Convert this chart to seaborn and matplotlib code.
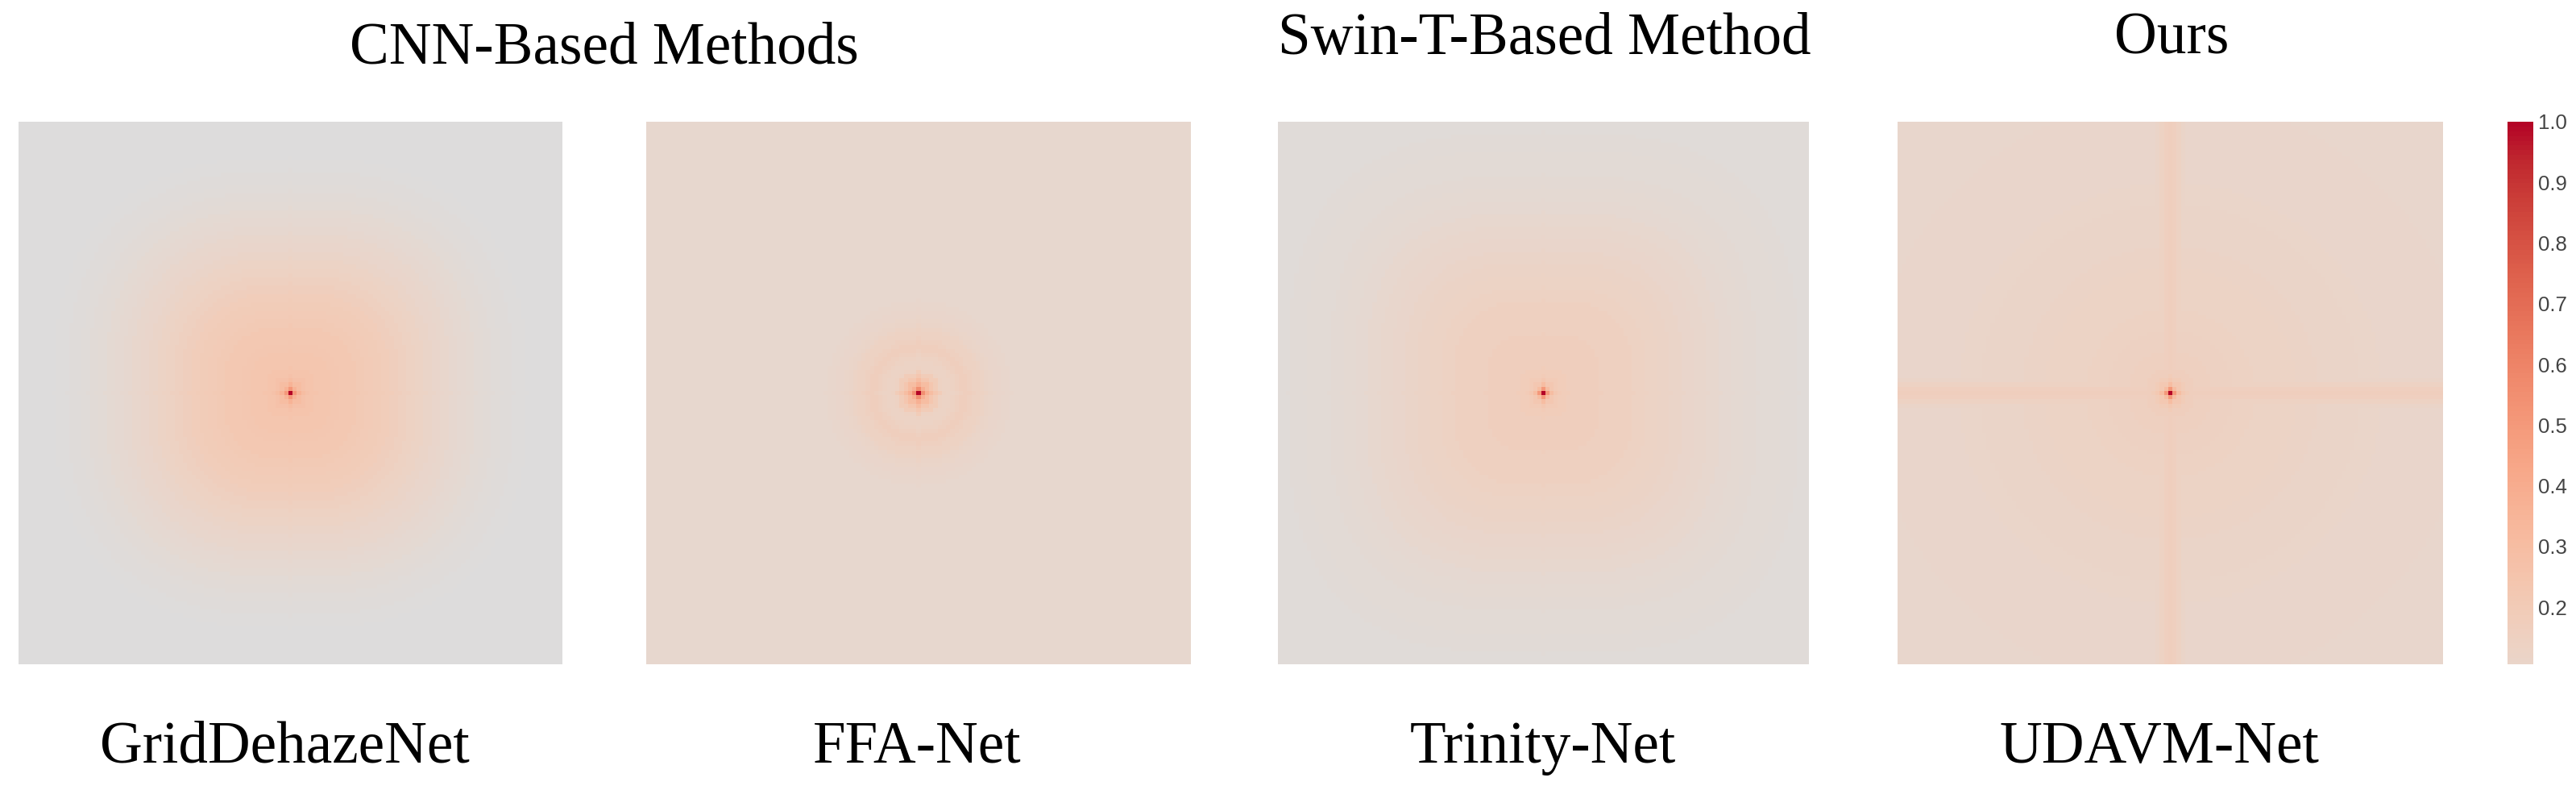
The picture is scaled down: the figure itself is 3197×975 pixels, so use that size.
import numpy as np
import matplotlib
matplotlib.use('Agg')
import matplotlib.pyplot as plt
import seaborn as sns

sns.set_style('white')

# labels
top_titles = ['CNN-Based Methods', 'Swin-T-Based Method', 'Ours']
net_names = ['GridDehazeNet', 'FFA-Net', 'Trinity-Net', 'UDAVM-Net']
cbar_ticks = [0.2, 0.3, 0.4, 0.5, 0.6, 0.7, 0.8, 0.9, 1.0]

# erf levels, ring by ring (outer radius of ring in cells, value)
grid_radius = [0, 1, 2, 3, 4, 5, 6, 8, 10, 12, 14, 16, 18, 20, 22, 24, 26, 28, 30, 32, 34, 36, 38, 40, 42, 44, 46, 48, 50, 53, 56, 60, 200]
grid_level = [1.0, .50, .36, .30, .27, .255, .25, .24, .235, .23, .225, .22, .21, .20, .19, .18, .165, .155, .14, .13, .115, .10, .09, .075, .065, .055, .045, .035, .03, .02, .015, .005, 0.0]

ffa_radius = [0, 1, 2, 3, 4, 5, 6, 7, 8, 9, 10, 11, 12, 13, 14, 15, 16, 17, 18, 19, 20, 22, 200]
ffa_level = [1.0, .55, .38, .30, .24, .19, .14, .125, .125, .14, .155, .17, .17, .15, .135, .14, .13, .115, .105, .10, .095, .09, .085]

trinity_radius = [0, 1, 2, 3, 4, 6, 10, 14, 18, 22, 25, 28, 31, 34, 37, 40, 43, 46, 49, 52, 55, 58, 62, 68, 200]
trinity_level = [1.0, .50, .30, .23, .20, .18, .17, .165, .155, .15, .14, .13, .12, .11, .10, .09, .08, .07, .06, .05, .045, .04, .035, .03, .025]

udavm_radius = [0, 1, 2, 3, 4, 6, 10, 15, 20, 25, 30, 35, 40, 45, 50, 55, 60, 70, 200]
udavm_level = [1.0, .50, .30, .22, .19, .165, .15, .145, .14, .13, .125, .12, .115, .11, .105, .10, .10, .095, .09]

# the cross in UDAVM-Net, by distance from the axis (cells)
cross_offset = [0, 1, 2, 3, 200]
cross_level = [.17, .16, .135, .115, 0.0]

# rounded-square shape of the first and third map
shape_power = [2.6, 2, 3, 2]

N = 129


def make_map(radius, level, power, band_off=None, band_lev=None):
    # look every cell up in the ring table
    r = np.arange(N) - N // 2
    xx, yy = np.meshgrid(r, r)
    dist = (np.abs(xx) ** power + np.abs(yy) ** power) ** (1 / power)
    z = np.array(level)[np.searchsorted(radius, dist)]
    if band_off is not None:
        band = np.array(band_lev)[np.searchsorted(band_off, np.minimum(np.abs(xx), np.abs(yy)))]
        z = np.maximum(z, band)
    return z


maps = [
    make_map(grid_radius, grid_level, shape_power[0]),
    make_map(ffa_radius, ffa_level, shape_power[1]),
    make_map(trinity_radius, trinity_level, shape_power[2]),
    make_map(udavm_radius, udavm_level, shape_power[3], cross_offset, cross_level),
]

W, H = 3197, 975
fig = plt.figure(figsize=(W / 100, H / 100), dpi=100)
fig.patch.set_facecolor('white')


def box(x0, x1, y0, y1):
    return [x0 / W, 1 - y1 / H, (x1 - x0) / W, (y1 - y0) / H]


panels = [(23, 698), (802, 1478), (1586, 2245), (2355, 3032)]
cax = fig.add_axes(box(3112, 3144, 151, 824))

for i, z in enumerate(maps):
    ax = fig.add_axes(box(panels[i][0], panels[i][1], 151, 824))
    sns.heatmap(z, ax=ax, cmap='coolwarm', vmin=-1, vmax=1, xticklabels=False, yticklabels=False,
                cbar=i == 3, cbar_ax=cax if i == 3 else None)

# only the top part of the colour scale is shown
cax.set_ylim(0.106, 1.0)
cax.set_yticks(cbar_ticks)
cax.set_yticklabels(['%.1f' % t for t in cbar_ticks], family='Liberation Sans', fontsize=18.5, color='#444444')
cax.tick_params(length=0, pad=4)

serif = 'Liberation Serif'
for name, xc, yc in zip(top_titles, [750, 1917, 2695], [61, 49, 49]):
    fig.text(xc / W, 1 - yc / H, name, family=serif, fontsize=52.7, ha='center', va='center', color='black')
for name, xc in zip(net_names, [353, 1138, 1915, 2680]):
    fig.text(xc / W, 1 - 928 / H, name, family=serif, fontsize=52.7, ha='center', va='center', color='black')

fig.savefig('out.png', dpi=100, facecolor='white')
